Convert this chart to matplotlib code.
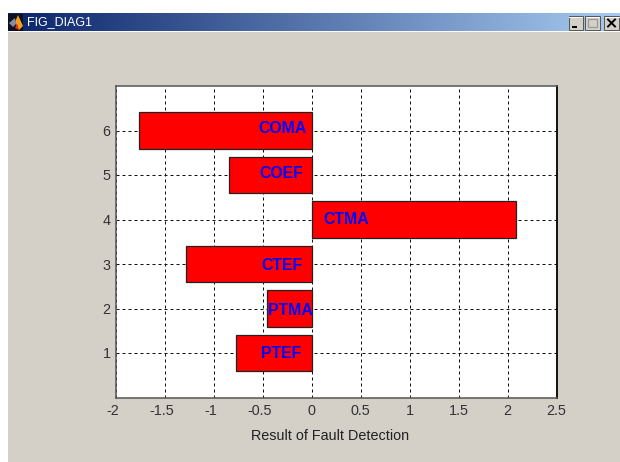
import numpy as np
import matplotlib
matplotlib.use("Agg")
import matplotlib.pyplot as plt
from matplotlib.patches import Rectangle, Polygon
from matplotlib.transforms import ScaledTranslation

plt.rcParams['font.family'] = ['Liberation Sans', 'DejaVu Sans']

W, H = 620, 462
GRAY = '#d4d0c8'

names = ['PTEF', 'PTMA', 'CTEF', 'CTMA', 'COEF', 'COMA']
positions = [1, 2, 3, 4, 5, 6]
values = [-0.776, -0.46, -1.28, 2.09, -0.845, -1.764]
label_x = [-0.52, -0.45, -0.52, 0.12, -0.54, -0.55]
label_y = [0.98, 1.95, 2.97, 4.0, 5.03, 6.05]
xticks = [-2, -1.5, -1, -0.5, 0, 0.5, 1, 1.5, 2, 2.5]
xticklabels = ['-2', '-1.5', '-1', '-0.5', '0', '0.5', '1', '1.5', '2', '2.5']
yticks = [1, 2, 3, 4, 5, 6]
xlabel = 'Result of Fault Detection'
window_title = 'FIG_DIAG1'

fig = plt.figure(figsize=(W / 100, H / 100), dpi=100, facecolor='white')

# Pixel-space chrome layer
bg = fig.add_axes([0, 0, 1, 1])
bg.axis('off')
bg.add_patch(Rectangle((8, 31.5), W - 8, H - 31.5, fc=GRAY, ec='none'))
grad = np.linspace(0, 1, 256).reshape(1, -1, 1)
c0 = np.array([0x0a, 0x24, 0x6a]) / 255
c1 = np.array([0xa6, 0xca, 0xf0]) / 255
bg.imshow(c0 + (c1 - c0) * grad, extent=(8, W, 31.5, 14), aspect='auto', zorder=1)
bg.set_xlim(0, W)
bg.set_ylim(H, 0)
bg.text(27, 22.5, window_title, color='white', fontsize=9, va='center', ha='left', zorder=3)

# Window icon
bg.add_patch(Rectangle((8, 14), 15, 17, fc='#101020', ec='none', zorder=2))
bg.add_patch(Polygon([(18, 15), (23, 26), (19, 30), (15, 22)], fc='#f0a020', ec='none', zorder=3))
bg.add_patch(Polygon([(17, 23), (19, 30), (15, 28)], fc='#e03010', ec='none', zorder=4))
bg.add_patch(Polygon([(9, 23), (15, 18), (16, 24), (13, 27)], fc='#8090a0', ec='none', zorder=3))

# Window buttons
for x0, x1 in ((568.5, 582.5), (585, 599.5), (604, 619)):
    bg.add_patch(Rectangle((x0, 16), x1 - x0, 14, fc=GRAY, ec='#555555', lw=0.7, zorder=2))
    bg.plot([x0 + 0.5, x1 - 0.5], [16.5, 16.5], color='white', lw=0.7, zorder=3)
bg.plot([571.5, 577], [26.5, 26.5], color='black', lw=1.4, zorder=4, solid_capstyle='butt')
bg.add_patch(Rectangle((588, 19), 8.5, 8, fc='none', ec='#999999', lw=0.9, zorder=4))
bg.plot([608, 615], [19.5, 26.5], color='black', lw=1.4, zorder=4)
bg.plot([608, 615], [26.5, 19.5], color='black', lw=1.4, zorder=4)

# Chart
L, R, T, B = 116, 556.5, 86, 397.5
ax = fig.add_axes([L / W, 1 - B / H, (R - L) / W, (B - T) / H])
ax.set_facecolor('white')
ax.barh(positions, values, height=0.81, left=0, color='#ff0000',
        edgecolor='#222222', linewidth=0.9, zorder=3)
ax.set_xlim(-2, 2.5)
ax.set_ylim(0, 7)
ax.set_xticks(xticks)
ax.set_xticklabels(xticklabels)
ax.set_yticks(yticks)
ax.grid(True, color='#111111', linestyle=(0, (3, 3)), linewidth=0.72)
ax.set_axisbelow(True)
ax.tick_params(direction='in', length=0, labelsize=10.4, labelcolor='#333333', pad=4.5)
ax.tick_params(axis='y', pad=3.8)
ax.set_xlabel(xlabel, fontsize=10.4, color='#222222', va='top')
ax.xaxis.set_label_coords((330 - L) / (R - L), (B - 429) / (B - T))
for s in ('top', 'left', 'bottom'):
    ax.spines[s].set_color('#555555')
    ax.spines[s].set_linewidth(1.1)
ax.spines['right'].set_color('black')
ax.spines['right'].set_linewidth(1.3)

# Negative tick labels sit slightly left of their ticks in the reference
shift = ScaledTranslation(-3.5 / 100, 0, fig.dpi_scale_trans)
for lab, tx in zip(ax.get_xticklabels(), xticklabels):
    if tx.startswith('-'):
        lab.set_transform(lab.get_transform() + shift)

for n, x, y in zip(names, label_x, label_y):
    ax.text(x, y, n, color='#0000ff', fontsize=11.4, fontweight='bold', ha='left', va='center', zorder=5)

fig.savefig('out.png', dpi=100, facecolor='white')
